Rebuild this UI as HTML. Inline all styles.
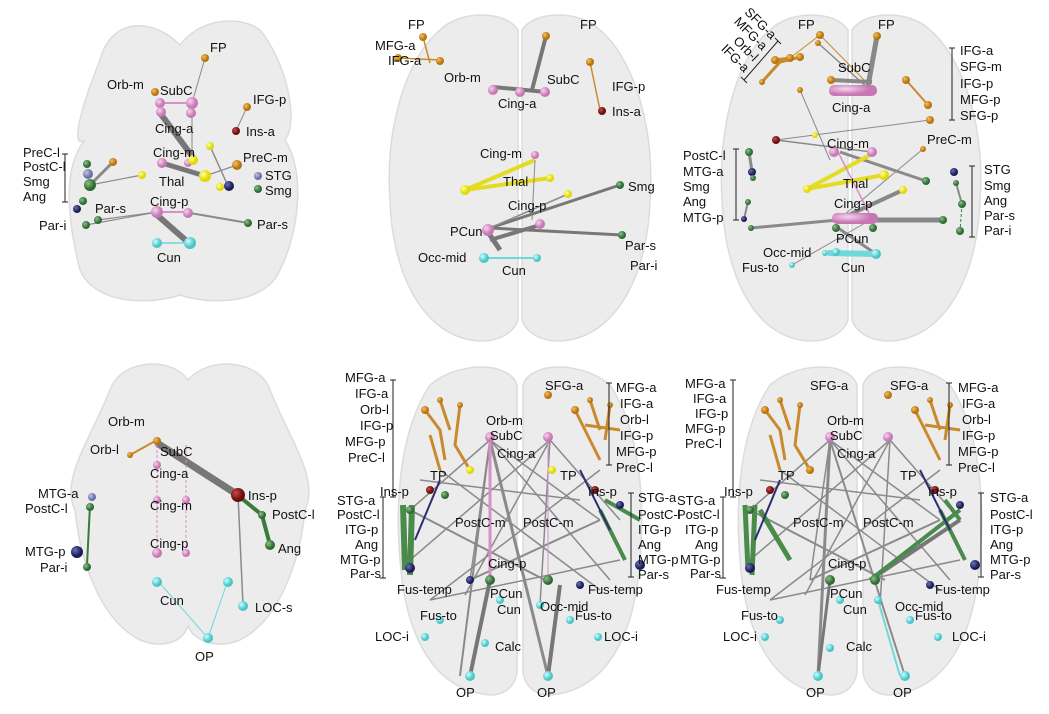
<!DOCTYPE html>
<html><head><meta charset="utf-8"><style>
html,body{margin:0;padding:0;background:#fff;width:1049px;height:714px;overflow:hidden}
svg text{font-family:"Liberation Sans",sans-serif;font-size:13px;fill:#111}
.b{fill:#ececec;stroke:#dcdcdc;stroke-width:1.5}
.e{stroke:#8a8a8a;fill:none}
</style></head><body>
<svg width="1049" height="714" viewBox="0 0 1049 714" xmlns="http://www.w3.org/2000/svg">
<defs>
<radialGradient id="o" cx=".35" cy=".35"><stop offset="0" stop-color="#f3c060"/><stop offset="1" stop-color="#b8730f"/></radialGradient>
<radialGradient id="p" cx=".35" cy=".35"><stop offset="0" stop-color="#f7d3ee"/><stop offset="1" stop-color="#c777b3"/></radialGradient>
<radialGradient id="y" cx=".35" cy=".35"><stop offset="0" stop-color="#ffffa0"/><stop offset="1" stop-color="#e0d800"/></radialGradient>
<radialGradient id="g" cx=".35" cy=".35"><stop offset="0" stop-color="#8cc08c"/><stop offset="1" stop-color="#2f6b33"/></radialGradient>
<radialGradient id="n" cx=".35" cy=".35"><stop offset="0" stop-color="#6a70b8"/><stop offset="1" stop-color="#1a1d55"/></radialGradient>
<radialGradient id="r" cx=".35" cy=".35"><stop offset="0" stop-color="#c84a4a"/><stop offset="1" stop-color="#6a0e0e"/></radialGradient>
<radialGradient id="c" cx=".35" cy=".35"><stop offset="0" stop-color="#c8ffff"/><stop offset="1" stop-color="#4ac4c8"/></radialGradient>
<radialGradient id="s" cx=".35" cy=".35"><stop offset="0" stop-color="#c0c4e8"/><stop offset="1" stop-color="#6b70a8"/></radialGradient>
</defs>

<!-- ===== Panel 1 top-left ===== -->
<path class="b" d="M180,45 C150,15 110,20 100,60 C80,110 70,150 85,140 C60,170 70,230 80,270 C95,305 150,305 180,295 C210,305 265,305 280,270 C300,230 305,170 285,140 C300,120 285,60 260,30 C240,15 200,18 180,45Z"/>
<g class="e">
<line x1="205" y1="58" x2="192" y2="103" stroke-width="1"/>
<line x1="247" y1="107" x2="236" y2="131" stroke-width="1"/>
<line x1="160" y1="113" x2="195" y2="160" stroke-width="6" stroke="#777"/>
<line x1="162" y1="163" x2="205" y2="176" stroke-width="5" stroke="#777"/>
<line x1="205" y1="176" x2="237" y2="165" stroke-width="1.2"/>
<line x1="210" y1="146" x2="228" y2="186" stroke-width="1.5"/>
<line x1="90" y1="185" x2="142" y2="175" stroke-width="1.2"/>
<line x1="90" y1="185" x2="113" y2="162" stroke-width="3"/>
<line x1="98" y1="220" x2="157" y2="212" stroke-width="1.2"/>
<line x1="86" y1="225" x2="157" y2="212" stroke-width="1.2"/>
<line x1="190" y1="213" x2="248" y2="223" stroke-width="2"/>
<line x1="157" y1="215" x2="190" y2="244" stroke-width="6" stroke="#777"/>
<line x1="192" y1="104" x2="192" y2="160" stroke-width="1"/>
</g>
<line x1="160" y1="103" x2="192" y2="103" stroke="#d98fc9" stroke-width="2"/>
<line x1="157" y1="212" x2="190" y2="212" stroke="#d98fc9" stroke-width="2"/>
<line x1="157" y1="243" x2="190" y2="243" stroke="#6fd8d8" stroke-width="1.5"/>
<circle cx="205" cy="58" r="4" fill="url(#o)"/><circle cx="155" cy="92" r="4" fill="url(#o)"/>
<circle cx="160" cy="103" r="5" fill="url(#p)"/><circle cx="192" cy="103" r="6" fill="url(#p)"/>
<circle cx="161" cy="112" r="5" fill="url(#p)"/><circle cx="191" cy="113" r="5" fill="url(#p)"/>
<circle cx="247" cy="107" r="4" fill="url(#o)"/><circle cx="236" cy="131" r="4" fill="url(#r)"/>
<circle cx="210" cy="146" r="4" fill="url(#y)"/><circle cx="162" cy="163" r="5" fill="url(#p)"/>
<circle cx="188" cy="163" r="4" fill="url(#p)"/><circle cx="193" cy="160" r="5" fill="url(#y)"/>
<circle cx="205" cy="176" r="6" fill="url(#y)"/><circle cx="142" cy="175" r="4" fill="url(#y)"/>
<circle cx="220" cy="187" r="4" fill="url(#y)"/><circle cx="229" cy="186" r="5" fill="url(#n)"/>
<circle cx="237" cy="165" r="5" fill="url(#o)"/><circle cx="113" cy="162" r="4" fill="url(#o)"/>
<circle cx="258" cy="176" r="4" fill="url(#s)"/><circle cx="258" cy="189" r="4" fill="url(#g)"/>
<circle cx="87" cy="164" r="4" fill="url(#g)"/><circle cx="88" cy="174" r="5" fill="url(#s)"/>
<circle cx="90" cy="185" r="6" fill="url(#g)"/><circle cx="83" cy="201" r="4" fill="url(#g)"/>
<circle cx="77" cy="209" r="4" fill="url(#n)"/><circle cx="98" cy="220" r="4" fill="url(#g)"/>
<circle cx="86" cy="225" r="4" fill="url(#g)"/><circle cx="157" cy="212" r="6" fill="url(#p)"/>
<circle cx="188" cy="213" r="5" fill="url(#p)"/><circle cx="248" cy="223" r="4" fill="url(#g)"/>
<circle cx="157" cy="243" r="5" fill="url(#c)"/><circle cx="190" cy="243" r="6" fill="url(#c)"/>
<text x="210" y="52">FP</text><text x="107" y="89">Orb-m</text><text x="160" y="95">SubC</text>
<text x="253" y="104">IFG-p</text><text x="246" y="136">Ins-a</text><text x="155" y="133">Cing-a</text>
<text x="153" y="157">Cing-m</text><text x="243" y="162">PreC-m</text><text x="159" y="186">Thal</text>
<text x="265" y="180">STG</text><text x="265" y="195">Smg</text>
<text x="23" y="157">PreC-l</text><text x="23" y="171">PostC-l</text><text x="23" y="186">Smg</text><text x="23" y="201">Ang</text>
<path d="M62,154 H68 M65,154 V202 M62,202 H68" stroke="#222" fill="none"/>
<text x="95" y="213">Par-s</text><text x="39" y="230">Par-i</text><text x="150" y="206">Cing-p</text>
<text x="257" y="229">Par-s</text><text x="157" y="262">Cun</text>

<!-- ===== Panel 2 top-middle ===== -->
<path class="b" d="M518,30 C505,10 460,10 440,30 C405,60 385,130 390,200 C392,270 420,330 470,340 C500,345 515,330 518,320Z"/>
<path class="b" d="M522,30 C535,10 580,10 600,30 C635,60 655,130 650,200 C648,270 620,330 570,340 C540,345 525,330 522,320Z"/>
<g class="e">
<line x1="423" y1="37" x2="430" y2="63" stroke-width="1.5" stroke="#c98a2c"/>
<line x1="398" y1="58" x2="440" y2="60" stroke-width="1.5" stroke="#c98a2c"/>
<line x1="546" y1="36" x2="532" y2="90" stroke-width="4" stroke="#777"/>
<line x1="493" y1="87" x2="546" y2="92" stroke-width="4" stroke="#777"/>
<line x1="590" y1="62" x2="600" y2="110" stroke-width="1.5" stroke="#c98a2c"/>
<line x1="465" y1="190" x2="535" y2="160" stroke-width="4" stroke="#e3dc20"/>
<line x1="465" y1="190" x2="550" y2="178" stroke-width="4" stroke="#e3dc20"/>
<line x1="490" y1="228" x2="620" y2="185" stroke-width="3" stroke="#777"/>
<line x1="490" y1="228" x2="622" y2="235" stroke-width="3" stroke="#777"/>
<line x1="490" y1="228" x2="568" y2="194" stroke-width="1.5"/>
<line x1="488" y1="232" x2="500" y2="250" stroke-width="5" stroke="#777"/>
<line x1="490" y1="240" x2="540" y2="225" stroke-width="4" stroke="#777"/>
<line x1="535" y1="160" x2="532" y2="220" stroke-width="1"/>
</g>
<line x1="484" y1="258" x2="537" y2="258" stroke="#6fd8d8" stroke-width="2"/>
<circle cx="423" cy="37" r="4" fill="url(#o)"/><circle cx="398" cy="58" r="4" fill="url(#o)"/>
<circle cx="440" cy="61" r="4" fill="url(#o)"/><circle cx="546" cy="36" r="4" fill="url(#o)"/>
<circle cx="590" cy="62" r="4" fill="url(#o)"/><circle cx="602" cy="111" r="4" fill="url(#r)"/>
<circle cx="493" cy="90" r="5" fill="url(#p)"/><circle cx="520" cy="92" r="5" fill="url(#p)"/><circle cx="545" cy="92" r="5" fill="url(#p)"/>
<circle cx="535" cy="155" r="4" fill="url(#p)"/><circle cx="465" cy="190" r="5" fill="url(#y)"/>
<circle cx="550" cy="178" r="4" fill="url(#y)"/><circle cx="568" cy="194" r="4" fill="url(#y)"/>
<circle cx="620" cy="185" r="4" fill="url(#g)"/><circle cx="622" cy="235" r="4" fill="url(#g)"/>
<circle cx="488" cy="230" r="6" fill="url(#p)"/><circle cx="540" cy="224" r="5" fill="url(#p)"/>
<circle cx="484" cy="258" r="5" fill="url(#c)"/><circle cx="537" cy="258" r="4" fill="url(#c)"/>
<text x="408" y="29">FP</text><text x="580" y="29">FP</text><text x="375" y="50">MFG-a</text><text x="388" y="65">IFG-a</text>
<text x="444" y="82">Orb-m</text><text x="547" y="84">SubC</text><text x="498" y="108">Cing-a</text>
<text x="612" y="91">IFG-p</text><text x="612" y="116">Ins-a</text><text x="480" y="158">Cing-m</text>
<text x="503" y="186">Thal</text><text x="628" y="191">Smg</text><text x="508" y="210">Cing-p</text>
<text x="625" y="250">Par-s</text><text x="630" y="270">Par-i</text><text x="450" y="236">PCun</text>
<text x="418" y="262">Occ-mid</text><text x="502" y="275">Cun</text>

<!-- ===== Panel 3 top-right ===== -->
<path class="b" d="M848,30 C835,10 790,10 770,30 C735,60 718,130 722,200 C725,270 750,330 800,340 C830,345 845,330 848,320Z"/>
<path class="b" d="M852,30 C865,10 910,10 930,30 C965,60 985,130 980,200 C978,270 950,330 900,340 C870,345 855,330 852,320Z"/>
<g class="e">
<line x1="820" y1="35" x2="872" y2="88" stroke-width="1" stroke="#c98a2c"/>
<line x1="818" y1="43" x2="870" y2="90" stroke-width="1.5"/>
<line x1="877" y1="36" x2="868" y2="86" stroke-width="5" stroke="#888"/>
<line x1="831" y1="80" x2="872" y2="82" stroke-width="4" stroke="#888"/>
<line x1="790" y1="58" x2="820" y2="35" stroke-width="1" stroke="#c98a2c"/>
<line x1="906" y1="80" x2="928" y2="105" stroke-width="2" stroke="#c98a2c"/>
<line x1="800" y1="90" x2="830" y2="160" stroke-width="1"/>
<line x1="776" y1="140" x2="930" y2="120" stroke-width="1"/>
<line x1="776" y1="140" x2="872" y2="152" stroke-width="1.5"/>
<line x1="840" y1="152" x2="926" y2="181" stroke-width="3"/>
<line x1="807" y1="189" x2="884" y2="175" stroke-width="4" stroke="#e3dc20"/>
<line x1="807" y1="189" x2="870" y2="155" stroke-width="4" stroke="#e3dc20"/>
<line x1="749" y1="152" x2="753" y2="178" stroke-width="3"/>
<line x1="748" y1="202" x2="744" y2="219" stroke-width="2"/>
<line x1="751" y1="228" x2="838" y2="220" stroke-width="3"/>
<line x1="838" y1="220" x2="943" y2="220" stroke-width="5" stroke="#888"/>
<line x1="838" y1="220" x2="903" y2="190" stroke-width="4" stroke="#888"/>
<line x1="838" y1="220" x2="923" y2="149" stroke-width="1"/>
<line x1="792" y1="265" x2="872" y2="219" stroke-width="1"/>
<line x1="838" y1="228" x2="876" y2="254" stroke-width="3" stroke="#888"/>
<line x1="956" y1="183" x2="962" y2="204" stroke-width="2"/>
<line x1="962" y1="204" x2="960" y2="231" stroke-width="1" stroke="#3a7a3a" stroke-dasharray="3,2"/>
</g>
<path d="M762,82 L780,62 L800,57 M775,60 L790,58" stroke="#c98a2c" stroke-width="3" fill="none"/>
<line x1="838" y1="152" x2="872" y2="219" stroke="#d98fc9" stroke-width="1.5"/>
<line x1="828" y1="253" x2="876" y2="254" stroke="#6fd8d8" stroke-width="6"/>
<rect x="829" y="85" width="48" height="11" rx="5" fill="url(#p)"/>
<rect x="832" y="213" width="46" height="11" rx="5" fill="url(#p)"/>
<circle cx="820" cy="35" r="4" fill="url(#o)"/><circle cx="818" cy="43" r="3" fill="url(#o)"/>
<circle cx="877" cy="36" r="4" fill="url(#o)"/><circle cx="831" cy="80" r="4" fill="url(#o)"/>
<circle cx="762" cy="82" r="3" fill="url(#o)"/><circle cx="775" cy="60" r="4" fill="url(#o)"/>
<circle cx="790" cy="58" r="4" fill="url(#o)"/><circle cx="800" cy="57" r="4" fill="url(#o)"/>
<circle cx="800" cy="90" r="3" fill="url(#o)"/><circle cx="906" cy="80" r="4" fill="url(#o)"/>
<circle cx="928" cy="105" r="4" fill="url(#o)"/><circle cx="930" cy="120" r="4" fill="url(#o)"/>
<circle cx="776" cy="140" r="4" fill="url(#r)"/><circle cx="815" cy="135" r="3" fill="url(#y)"/>
<circle cx="834" cy="152" r="5" fill="url(#p)"/><circle cx="872" cy="152" r="5" fill="url(#p)"/>
<circle cx="923" cy="149" r="3" fill="url(#o)"/>
<circle cx="807" cy="189" r="4" fill="url(#y)"/><circle cx="884" cy="175" r="5" fill="url(#y)"/>
<circle cx="903" cy="190" r="4" fill="url(#y)"/><circle cx="926" cy="181" r="4" fill="url(#g)"/>
<circle cx="749" cy="152" r="4" fill="url(#g)"/><circle cx="752" cy="172" r="4" fill="url(#n)"/>
<circle cx="753" cy="178" r="3" fill="url(#g)"/>
<circle cx="748" cy="202" r="3" fill="url(#g)"/><circle cx="744" cy="219" r="3" fill="url(#n)"/>
<circle cx="751" cy="228" r="3" fill="url(#g)"/>
<circle cx="954" cy="172" r="4" fill="url(#n)"/><circle cx="956" cy="183" r="3" fill="url(#g)"/>
<circle cx="962" cy="204" r="4" fill="url(#g)"/><circle cx="960" cy="231" r="4" fill="url(#g)"/>
<circle cx="943" cy="220" r="4" fill="url(#g)"/>
<circle cx="836" cy="228" r="4" fill="url(#g)"/><circle cx="873" cy="228" r="4" fill="url(#g)"/>
<circle cx="825" cy="253" r="3" fill="url(#c)"/><circle cx="836" cy="252" r="4" fill="url(#c)"/>
<circle cx="876" cy="254" r="5" fill="url(#c)"/><circle cx="792" cy="265" r="3" fill="url(#c)"/>
<text x="798" y="29">FP</text><text x="878" y="29">FP</text>
<text transform="translate(771,40) rotate(45)" text-anchor="end" font-size="12">SFG-a</text>
<text transform="translate(762,51) rotate(45)" text-anchor="end" font-size="12">MFG-a</text>
<text transform="translate(753,62) rotate(45)" text-anchor="end" font-size="12">Orb-l</text>
<text transform="translate(744,73) rotate(45)" text-anchor="end" font-size="12">IFG-a</text>
<path d="M775,38 L781,44 M778,41 L744,80 M741,77 L747,83" stroke="#222" fill="none"/>
<text x="838" y="72">SubC</text><text x="832" y="112">Cing-a</text>
<path d="M949,48 H955 M952,48 V120 M949,120 H955" stroke="#222" fill="none"/>
<text x="960" y="55">IFG-a</text><text x="960" y="71">SFG-m</text><text x="960" y="88">IFG-p</text><text x="960" y="104">MFG-p</text><text x="960" y="120">SFG-p</text>
<text x="827" y="148">Cing-m</text><text x="927" y="144">PreC-m</text>
<path d="M733,149 H739 M736,149 V220 M733,220 H739" stroke="#222" fill="none"/>
<text x="683" y="160">PostC-l</text><text x="683" y="176">MTG-a</text><text x="683" y="191">Smg</text><text x="683" y="206">Ang</text><text x="683" y="222">MTG-p</text>
<text x="843" y="188">Thal</text><text x="834" y="208">Cing-p</text><text x="836" y="243">PCun</text>
<path d="M969,166 H975 M972,166 V237 M969,237 H975" stroke="#222" fill="none"/>
<text x="984" y="174">STG</text><text x="984" y="190">Smg</text><text x="984" y="205">Ang</text><text x="984" y="220">Par-s</text><text x="984" y="235">Par-i</text>
<text x="763" y="257">Occ-mid</text><text x="742" y="272">Fus-to</text><text x="841" y="272">Cun</text>

<!-- ===== Panel 4 bottom-left ===== -->
<path class="b" d="M188,380 C170,355 120,360 110,390 C90,440 60,480 75,510 C80,560 100,620 140,640 C165,650 185,640 188,625 C192,640 215,650 240,640 C280,620 300,560 305,510 C320,480 290,440 270,390 C260,360 210,355 188,380Z"/>
<g class="e">
<line x1="157" y1="443" x2="238" y2="495" stroke-width="7" stroke="#777"/>
<line x1="238" y1="495" x2="243" y2="605" stroke-width="1.5"/>
<line x1="240" y1="497" x2="262" y2="515" stroke-width="4" stroke="#3a7a3a"/>
<line x1="262" y1="515" x2="270" y2="545" stroke-width="4" stroke="#3a7a3a"/>
<line x1="90" y1="505" x2="87" y2="565" stroke-width="2" stroke="#3a7a3a"/>
<line x1="157" y1="580" x2="208" y2="638" stroke-width="1" stroke="#6fd8d8"/>
<line x1="228" y1="580" x2="208" y2="638" stroke-width="1" stroke="#6fd8d8"/>
<line x1="130" y1="455" x2="157" y2="440" stroke-width="2" stroke="#c98a2c"/>
</g>
<line x1="157" y1="445" x2="157" y2="555" stroke="#d98fc9" stroke-dasharray="3,2"/>
<line x1="186" y1="445" x2="186" y2="555" stroke="#d98fc9" stroke-dasharray="3,2"/>
<circle cx="157" cy="441" r="4" fill="url(#o)"/><circle cx="130" cy="455" r="3" fill="url(#o)"/>
<circle cx="157" cy="465" r="4" fill="url(#p)"/><circle cx="157" cy="500" r="4" fill="url(#p)"/>
<circle cx="186" cy="500" r="4" fill="url(#p)"/><circle cx="157" cy="553" r="5" fill="url(#p)"/>
<circle cx="186" cy="553" r="4" fill="url(#p)"/><circle cx="238" cy="495" r="7" fill="url(#r)"/>
<circle cx="262" cy="515" r="4" fill="url(#g)"/><circle cx="270" cy="545" r="5" fill="url(#g)"/>
<circle cx="92" cy="497" r="4" fill="url(#s)"/><circle cx="90" cy="507" r="4" fill="url(#g)"/>
<circle cx="77" cy="552" r="6" fill="url(#n)"/><circle cx="87" cy="567" r="4" fill="url(#g)"/>
<circle cx="157" cy="582" r="5" fill="url(#c)"/><circle cx="228" cy="582" r="5" fill="url(#c)"/>
<circle cx="243" cy="606" r="5" fill="url(#c)"/><circle cx="208" cy="638" r="5" fill="url(#c)"/>
<text x="108" y="426">Orb-m</text><text x="90" y="454">Orb-l</text><text x="160" y="456">SubC</text>
<text x="150" y="478">Cing-a</text><text x="150" y="510">Cing-m</text><text x="150" y="548">Cing-p</text>
<text x="248" y="500">Ins-p</text><text x="272" y="519">PostC-l</text><text x="278" y="553">Ang</text>
<text x="38" y="498">MTG-a</text><text x="25" y="513">PostC-l</text><text x="25" y="556">MTG-p</text><text x="40" y="572">Par-i</text>
<text x="160" y="605">Cun</text><text x="255" y="612">LOC-s</text><text x="195" y="661">OP</text>

<!-- ===== Panel 5 bottom-middle ===== -->
<path class="b" d="M517,385 C510,362 460,360 430,385 C400,430 395,500 400,560 C405,630 430,690 490,695 C510,695 517,680 517,670Z"/>
<path class="b" d="M523,385 C530,362 580,360 610,385 C640,430 645,500 640,560 C635,630 610,690 550,695 C530,695 523,680 523,670Z"/>
<g class="e" stroke-width="1.5">
<line x1="490" y1="440" x2="410" y2="510"/><line x1="490" y1="440" x2="470" y2="580"/>
<line x1="490" y1="440" x2="610" y2="580"/><line x1="490" y1="440" x2="600" y2="520"/>
<line x1="490" y1="440" x2="548" y2="676" stroke-width="3"/><line x1="490" y1="440" x2="460" y2="676" stroke-width="2"/>
<line x1="550" y1="440" x2="410" y2="560"/><line x1="550" y1="440" x2="465" y2="595"/>
<line x1="550" y1="440" x2="620" y2="520"/><line x1="550" y1="440" x2="540" y2="605"/>
<line x1="470" y1="580" x2="600" y2="520" stroke-width="2"/><line x1="430" y1="600" x2="620" y2="560"/>
<line x1="410" y1="510" x2="545" y2="580" stroke-width="2"/><line x1="440" y1="470" x2="600" y2="590"/>
<line x1="600" y1="470" x2="430" y2="600"/><line x1="490" y1="580" x2="470" y2="676" stroke-width="4" stroke="#777"/>
<line x1="560" y1="585" x2="548" y2="676" stroke-width="4" stroke="#777"/>
<line x1="420" y1="480" x2="580" y2="500"/>
</g>
<g stroke="#c98a2c" fill="none" stroke-width="3">
<path d="M425,410 L440,430 L445,460 M440,400 L450,430 M460,405 L455,445 L470,470 M430,435 L440,470"/>
<path d="M575,410 L590,440 L600,460 M590,400 L600,430 M610,405 L605,440 M585,425 L620,430"/>
</g>
<path d="M403,505 L405,570 M412,505 L410,575" stroke="#4a8a4a" stroke-width="6"/>
<path d="M600,510 L625,560 M605,500 L640,520" stroke="#4a8a4a" stroke-width="4"/>
<path d="M580,470 L610,530 M440,480 L415,540" stroke="#2b2f70" stroke-width="2"/>
<line x1="490" y1="440" x2="490" y2="580" stroke="#d98fc9" stroke-width="3"/>
<line x1="548" y1="440" x2="548" y2="580" stroke="#d98fc9" stroke-width="1"/>
<circle cx="490" cy="437" r="5" fill="url(#p)"/><circle cx="548" cy="437" r="5" fill="url(#p)"/>
<circle cx="548" cy="395" r="4" fill="url(#o)"/><circle cx="425" cy="410" r="4" fill="url(#o)"/>
<circle cx="440" cy="400" r="3" fill="url(#o)"/><circle cx="460" cy="405" r="3" fill="url(#o)"/>
<circle cx="590" cy="400" r="3" fill="url(#o)"/><circle cx="575" cy="410" r="4" fill="url(#o)"/>
<circle cx="610" cy="405" r="3" fill="url(#o)"/><circle cx="470" cy="470" r="4" fill="url(#y)"/>
<circle cx="552" cy="470" r="4" fill="url(#y)"/><circle cx="430" cy="490" r="4" fill="url(#r)"/>
<circle cx="595" cy="490" r="4" fill="url(#r)"/><circle cx="445" cy="495" r="4" fill="url(#g)"/>
<circle cx="410" cy="510" r="4" fill="url(#g)"/><circle cx="620" cy="505" r="4" fill="url(#n)"/>
<circle cx="410" cy="568" r="5" fill="url(#n)"/><circle cx="640" cy="565" r="5" fill="url(#n)"/>
<circle cx="490" cy="580" r="5" fill="url(#g)"/><circle cx="548" cy="580" r="5" fill="url(#g)"/>
<circle cx="470" cy="580" r="4" fill="url(#n)"/><circle cx="580" cy="585" r="4" fill="url(#n)"/>
<circle cx="500" cy="600" r="4" fill="url(#c)"/><circle cx="540" cy="605" r="4" fill="url(#c)"/>
<circle cx="440" cy="620" r="4" fill="url(#c)"/><circle cx="570" cy="620" r="4" fill="url(#c)"/>
<circle cx="425" cy="637" r="4" fill="url(#c)"/><circle cx="598" cy="637" r="4" fill="url(#c)"/>
<circle cx="485" cy="643" r="4" fill="url(#c)"/><circle cx="470" cy="676" r="5" fill="url(#c)"/>
<circle cx="548" cy="676" r="5" fill="url(#c)"/>
<text x="545" y="390">SFG-a</text><text x="486" y="425">Orb-m</text><text x="490" y="440">SubC</text><text x="497" y="458">Cing-a</text>
<path d="M390,380 H396 M393,380 V497 M390,497 H396" stroke="#222" fill="none"/>
<text x="345" y="382">MFG-a</text><text x="355" y="398">IFG-a</text><text x="360" y="414">Orb-l</text><text x="360" y="430">IFG-p</text><text x="345" y="446">MFG-p</text><text x="348" y="462">PreC-l</text>
<path d="M606,383 H612 M609,383 V465 M606,465 H612" stroke="#222" fill="none"/>
<text x="616" y="392">MFG-a</text><text x="620" y="408">IFG-a</text><text x="620" y="424">Orb-l</text><text x="620" y="440">IFG-p</text><text x="616" y="456">MFG-p</text><text x="616" y="472">PreC-l</text>
<text x="430" y="480">TP</text><text x="560" y="480">TP</text><text x="380" y="496">Ins-p</text><text x="588" y="496">Ins-p</text>
<text x="455" y="527">PostC-m</text><text x="523" y="527">PostC-m</text>
<path d="M380,497 H386 M383,497 V578 M380,578 H386" stroke="#222" fill="none"/>
<text x="337" y="505">STG-a</text><text x="337" y="519">PostC-l</text><text x="345" y="534">ITG-p</text><text x="355" y="549">Ang</text><text x="340" y="564">MTG-p</text><text x="350" y="578">Par-s</text>
<path d="M628,493 H634 M631,493 V577 M628,577 H634" stroke="#222" fill="none"/>
<text x="638" y="502">STG-a</text><text x="638" y="519">PostC-l</text><text x="638" y="534">ITG-p</text><text x="638" y="549">Ang</text><text x="638" y="564">MTG-p</text><text x="638" y="579">Par-s</text>
<text x="488" y="568">Cing-p</text><text x="397" y="594">Fus-temp</text><text x="588" y="594">Fus-temp</text>
<text x="490" y="598">PCun</text><text x="497" y="614">Cun</text><text x="540" y="611">Occ-mid</text>
<text x="420" y="620">Fus-to</text><text x="575" y="620">Fus-to</text><text x="375" y="641">LOC-i</text><text x="604" y="641">LOC-i</text>
<text x="495" y="651">Calc</text><text x="456" y="697">OP</text><text x="537" y="697">OP</text>

<!-- ===== Panel 6 bottom-right ===== -->
<path class="b" d="M857,385 C850,362 800,360 770,385 C740,430 735,500 740,560 C745,630 770,690 830,695 C850,695 857,680 857,670Z"/>
<path class="b" d="M863,385 C870,362 920,360 950,385 C980,430 985,500 980,560 C975,630 950,690 890,695 C870,695 863,680 863,670Z"/>
<g class="e" stroke-width="1.5">
<line x1="830" y1="440" x2="750" y2="510"/><line x1="830" y1="440" x2="810" y2="580"/>
<line x1="830" y1="440" x2="950" y2="580"/><line x1="830" y1="440" x2="940" y2="520"/>
<line x1="830" y1="440" x2="905" y2="676" stroke-width="2"/><line x1="830" y1="440" x2="818" y2="676" stroke-width="3"/>
<line x1="890" y1="440" x2="750" y2="560"/><line x1="890" y1="440" x2="805" y2="595"/>
<line x1="890" y1="440" x2="960" y2="520"/><line x1="890" y1="440" x2="880" y2="605"/>
<line x1="810" y1="580" x2="940" y2="520" stroke-width="2"/><line x1="770" y1="600" x2="960" y2="560"/>
<line x1="750" y1="510" x2="885" y2="580" stroke-width="2"/><line x1="780" y1="470" x2="940" y2="590"/>
<line x1="940" y1="470" x2="770" y2="600"/><line x1="830" y1="580" x2="818" y2="676" stroke-width="3" stroke="#777"/>
<line x1="760" y1="480" x2="920" y2="500"/><line x1="870" y1="580" x2="960" y2="520" stroke-width="4" stroke="#777"/>
</g>
<g stroke="#c98a2c" fill="none" stroke-width="3">
<path d="M765,410 L780,430 L785,460 M780,400 L790,430 M800,405 L795,445 L810,470 M770,435 L780,470"/>
<path d="M915,410 L930,440 L940,460 M930,400 L940,430 M950,405 L945,440 M925,425 L960,430"/>
</g>
<path d="M745,505 L748,570 M755,505 L752,575 M760,510 L790,560" stroke="#4a8a4a" stroke-width="5"/>
<path d="M940,510 L965,560 M945,500 L960,520 M870,580 L960,510" stroke="#4a8a4a" stroke-width="4"/>
<path d="M920,470 L950,530 M780,480 L755,540" stroke="#2b2f70" stroke-width="2"/>
<line x1="878" y1="600" x2="900" y2="676" stroke="#6fd8d8" stroke-width="2"/>
<circle cx="830" cy="437" r="5" fill="url(#p)"/><circle cx="888" cy="437" r="5" fill="url(#p)"/>
<circle cx="888" cy="395" r="4" fill="url(#o)"/><circle cx="765" cy="410" r="4" fill="url(#o)"/>
<circle cx="780" cy="400" r="3" fill="url(#o)"/><circle cx="800" cy="405" r="3" fill="url(#o)"/>
<circle cx="930" cy="400" r="3" fill="url(#o)"/><circle cx="915" cy="410" r="4" fill="url(#o)"/>
<circle cx="950" cy="405" r="3" fill="url(#o)"/><circle cx="810" cy="470" r="4" fill="url(#o)"/>
<circle cx="770" cy="490" r="4" fill="url(#r)"/><circle cx="935" cy="490" r="4" fill="url(#r)"/>
<circle cx="785" cy="495" r="4" fill="url(#g)"/><circle cx="750" cy="510" r="4" fill="url(#g)"/>
<circle cx="960" cy="505" r="4" fill="url(#n)"/><circle cx="750" cy="568" r="5" fill="url(#n)"/>
<circle cx="975" cy="565" r="5" fill="url(#n)"/><circle cx="830" cy="580" r="5" fill="url(#g)"/>
<circle cx="875" cy="580" r="5" fill="url(#g)"/><circle cx="930" cy="585" r="4" fill="url(#n)"/>
<circle cx="840" cy="600" r="4" fill="url(#c)"/><circle cx="878" cy="600" r="4" fill="url(#c)"/>
<circle cx="780" cy="620" r="4" fill="url(#c)"/><circle cx="910" cy="620" r="4" fill="url(#c)"/>
<circle cx="765" cy="637" r="4" fill="url(#c)"/><circle cx="938" cy="637" r="4" fill="url(#c)"/>
<circle cx="830" cy="648" r="4" fill="url(#c)"/><circle cx="818" cy="676" r="5" fill="url(#c)"/>
<circle cx="905" cy="676" r="5" fill="url(#c)"/>
<text x="810" y="390">SFG-a</text><text x="890" y="390">SFG-a</text><text x="827" y="425">Orb-m</text><text x="830" y="440">SubC</text><text x="837" y="458">Cing-a</text>
<path d="M730,380 H736 M733,380 V497 M730,497 H736" stroke="#222" fill="none"/>
<text x="685" y="388">MFG-a</text><text x="693" y="403">IFG-a</text><text x="695" y="418">IFG-p</text><text x="685" y="433">MFG-p</text><text x="685" y="448">PreC-l</text>
<path d="M946,383 H952 M949,383 V465 M946,465 H952" stroke="#222" fill="none"/>
<text x="958" y="392">MFG-a</text><text x="962" y="408">IFG-a</text><text x="962" y="424">Orb-l</text><text x="962" y="440">IFG-p</text><text x="958" y="456">MFG-p</text><text x="958" y="472">PreC-l</text>
<text x="778" y="480">TP</text><text x="900" y="480">TP</text><text x="724" y="496">Ins-p</text><text x="928" y="496">Ins-p</text>
<text x="793" y="527">PostC-m</text><text x="863" y="527">PostC-m</text>
<path d="M720,497 H726 M723,497 V578 M720,578 H726" stroke="#222" fill="none"/>
<text x="677" y="505">STG-a</text><text x="677" y="519">PostC-l</text><text x="685" y="534">ITG-p</text><text x="695" y="549">Ang</text><text x="680" y="564">MTG-p</text><text x="690" y="578">Par-s</text>
<path d="M978,493 H984 M981,493 V577 M978,577 H984" stroke="#222" fill="none"/>
<text x="990" y="502">STG-a</text><text x="990" y="519">PostC-l</text><text x="990" y="534">ITG-p</text><text x="990" y="549">Ang</text><text x="990" y="564">MTG-p</text><text x="990" y="579">Par-s</text>
<text x="828" y="568">Cing-p</text><text x="716" y="594">Fus-temp</text><text x="935" y="594">Fus-temp</text>
<text x="830" y="598">PCun</text><text x="843" y="614">Cun</text><text x="895" y="611">Occ-mid</text>
<text x="741" y="620">Fus-to</text><text x="915" y="620">Fus-to</text><text x="723" y="641">LOC-i</text><text x="952" y="641">LOC-i</text>
<text x="846" y="651">Calc</text><text x="806" y="697">OP</text><text x="893" y="697">OP</text>
</svg>
</body></html>
